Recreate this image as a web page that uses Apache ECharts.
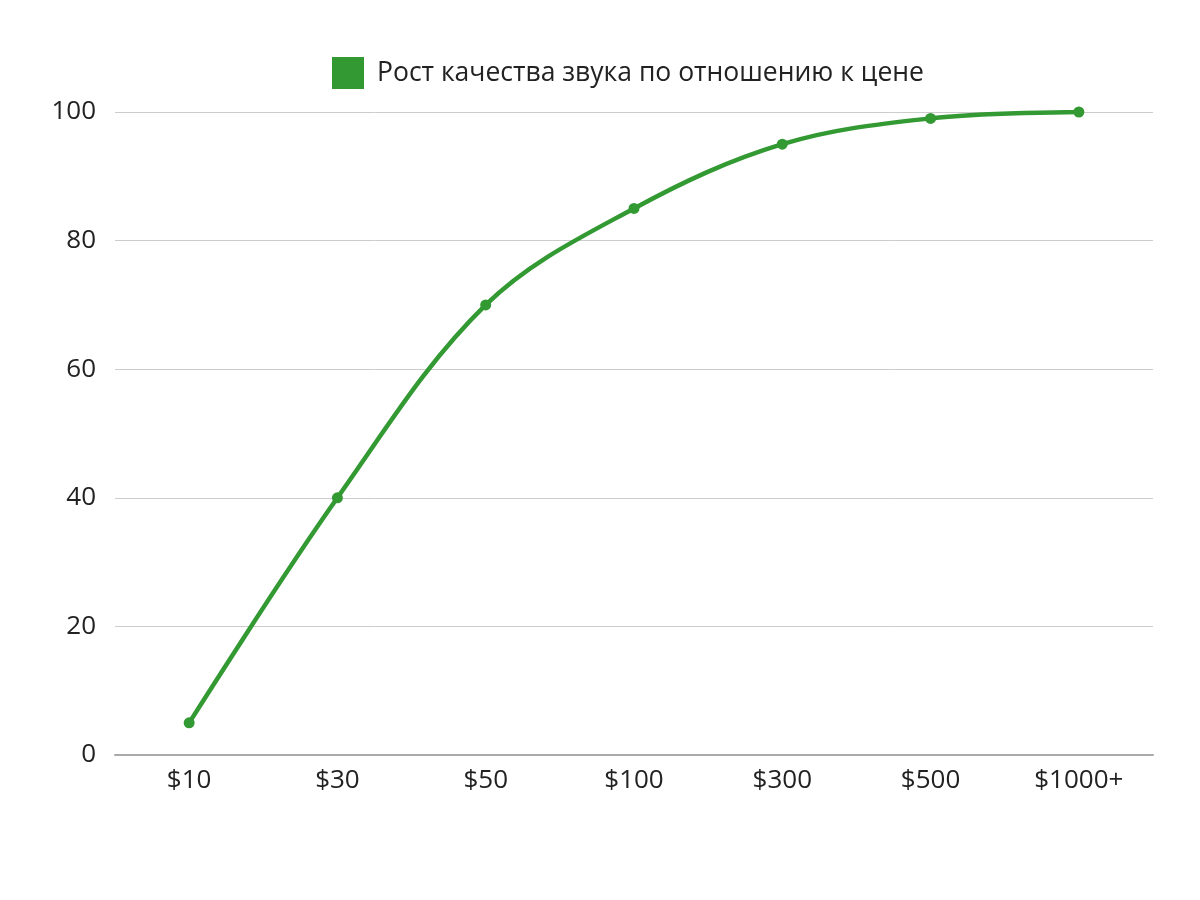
<!DOCTYPE html>
<html><head><meta charset="utf-8">
<script src="https://cdn.jsdelivr.net/npm/echarts@6/dist/echarts.min.js"></script>
<style>html,body{margin:0;padding:0;background:#fff}#c{width:1200px;height:900px}</style>
</head><body><div id="c"></div>
<script>
const categories = ['$10','$30','$50','$100','$300','$500','$1000+'];
const values = [5,40,70,85,95,99,100];
const seriesName = 'Рост качества звука по отношению к цене';
const yTicks = {min:0,max:100,interval:20};
const chart = echarts.init(document.getElementById('c'));
chart.setOption({
  animation:false,
  textStyle:{fontFamily:'Open Sans'},
  legend:{top:52,left:327,itemWidth:32,itemHeight:32,
    textStyle:{fontSize:26.5,color:'#222',fontFamily:'Open Sans',padding:[0,0,0,8]},
    data:[{name:seriesName,icon:'rect'}]},
  grid:{left:115,right:47,top:112,bottom:145,containLabel:false},
  xAxis:{type:'category',data:categories,boundaryGap:true,
    axisLine:{lineStyle:{color:'#aaa',width:2}},axisTick:{show:false},
    axisLabel:{fontSize:26,color:'#222',margin:13,fontFamily:'Open Sans'}},
  yAxis:{type:'value',min:yTicks.min,max:yTicks.max,interval:yTicks.interval,
    axisLine:{show:false},axisTick:{show:false},
    splitLine:{lineStyle:{color:'#ccc',width:1}},
    axisLabel:{fontSize:26,color:'#222',margin:19,lineHeight:32,verticalAlign:'middle',padding:[6,0,0,0],fontFamily:'Open Sans'}},
  series:[{name:seriesName,type:'line',data:values,smooth:0.35,
    symbol:'circle',symbolSize:11,
    itemStyle:{color:'#339933'},lineStyle:{color:'#339933',width:4.5}}]
});
</script></body></html>
